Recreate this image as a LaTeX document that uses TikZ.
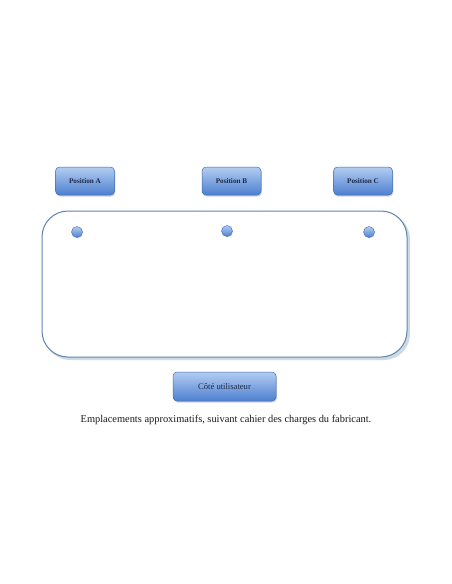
\documentclass[tikz,border=0pt]{standalone}
\usepackage{fontspec}
\setmainfont{Liberation Serif}
\usetikzlibrary{shadows}
\definecolor{boxtop}{HTML}{B3CDF2}
\definecolor{boxbot}{HTML}{4D7FD0}
\definecolor{boxedge}{HTML}{3F6CB5}
\definecolor{frameedge}{HTML}{5E84AE}
\definecolor{labeltext}{HTML}{1F2A44}
\tikzset{
  posbox/.style={draw=boxedge, line width=0.5pt, rounded corners=4pt,
    top color=boxtop, bottom color=boxbot, minimum width=59pt, minimum height=28pt,
    font=\fontsize{7.2}{8}\selectfont\bfseries, text=labeltext,
    drop shadow={shadow xshift=0.8pt, shadow yshift=-1.5pt, opacity=0.35}},
  dot/.style={circle, draw=boxedge, line width=0.4pt, inner sep=0pt, minimum size=11pt,
    top color=boxtop, bottom color=boxbot,
    drop shadow={shadow xshift=0.5pt, shadow yshift=-1pt, opacity=0.3}},
}
\begin{document}
\begin{tikzpicture}[x=1pt, y=-1pt]
\useasboundingbox[fill=white] (0,0) rectangle (452,584);
% frame
\fill[frameedge!60, opacity=0.5, rounded corners=26pt] (44,213) rectangle (410,360);
\draw[frameedge, line width=1pt, fill=white, rounded corners=26pt] (42,211) rectangle (407,357);
% position boxes
\node[posbox] (pa) at (85,181) {Position A};
\node[posbox] (pb) at (231.5,181) {Position B};
\node[posbox] (pc) at (363,181) {Position C};
% dots
\node[dot] (da) at (77,232) {};
\node[dot] (db) at (227,231) {};
\node[dot] (dc) at (369,232) {};
% user side
\node[posbox, minimum width=103pt, minimum height=29pt, font=\fontsize{8.6}{9}\selectfont] (user) at (224.5,386.5) {Côté utilisateur};
\node[font=\fontsize{10.4}{12}\selectfont, text=black!90] (cap) at (226,420) {Emplacements approximatifs, suivant cahier des charges du fabricant.};
\end{tikzpicture}
\end{document}
